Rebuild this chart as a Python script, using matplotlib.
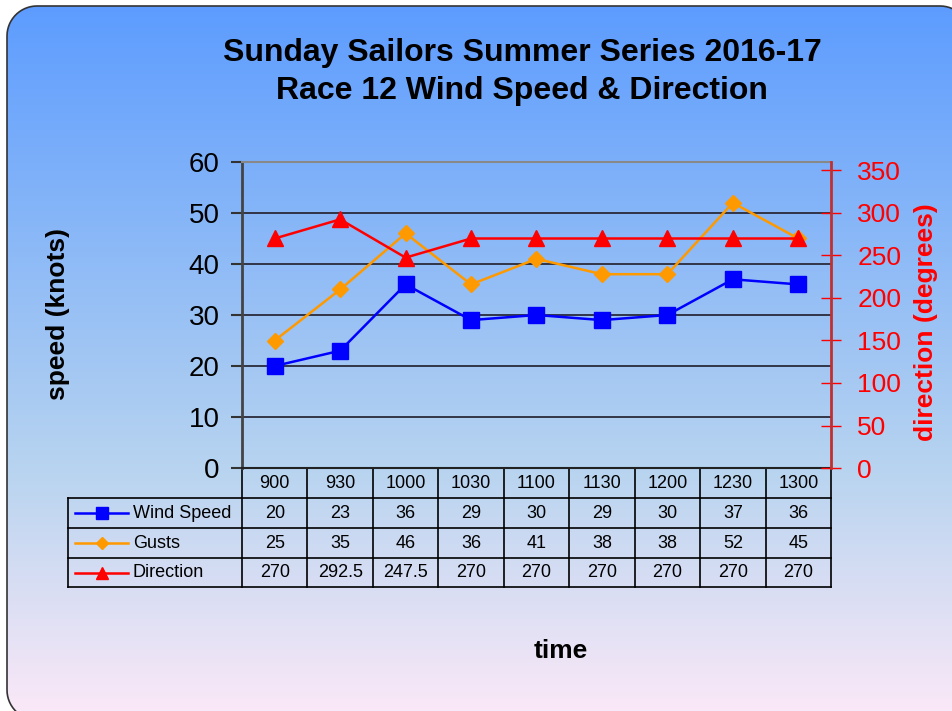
import numpy as np
import matplotlib
matplotlib.use("Agg")
import matplotlib.pyplot as plt
from matplotlib.patches import Polygon
from matplotlib.lines import Line2D
from matplotlib.transforms import blended_transform_factory

plt.rcParams['font.family'] = ['Liberation Sans', 'DejaVu Sans']

# data
times = ['900', '930', '1000', '1030', '1100', '1130', '1200', '1230', '1300']
wind_speed = [20, 23, 36, 29, 30, 29, 30, 37, 36]
gusts = [25, 35, 46, 36, 41, 38, 38, 52, 45]
direction = [270, 292.5, 247.5, 270, 270, 270, 270, 270, 270]
direction_labels = ['270', '292.5', '247.5', '270', '270', '270', '270', '270', '270']

W, H = 953, 711
fig = plt.figure(figsize=(W / 100, H / 100), dpi=100)

# background with rounded frame and vertical gradient (pixel coords, y down)
bg = fig.add_axes([0, 0, 1, 1])
bg.set_xlim(0, W)
bg.set_ylim(H, 0)
bg.set_autoscale_on(False)
bg.axis('off')
top_c = np.array([0.36, 0.61, 1.0])
mid_c = np.array([0.72, 0.83, 0.94])
bot_c = np.array([0.98, 0.91, 0.97])
yy = np.linspace(0, 1, 300)[:, None]
grad = np.where(yy < 0.66,
                top_c + (mid_c - top_c) * (yy / 0.66),
                mid_c + (bot_c - mid_c) * ((yy - 0.66) / 0.34))
grad = grad[:, None, :].repeat(2, axis=1)

# rounded rectangle corners as short arcs
fl, ft, fr, fb, rad = 7, 6, 970, 720, 30
arcs = []
for cx, cy, a0 in [(fr - rad, ft + rad, -90), (fr - rad, fb - rad, 0),
                   (fl + rad, fb - rad, 90), (fl + rad, ft + rad, 180)]:
    a = np.radians(np.linspace(a0, a0 + 90, 16))
    arcs.append(np.column_stack([cx + rad * np.cos(a), cy + rad * np.sin(a)]))
pts = np.vstack(arcs)
clip_pts = np.column_stack([np.clip(pts[:, 0], 0, W), np.clip(pts[:, 1], 0, H)])
clip_poly = Polygon(clip_pts, closed=True, facecolor='none', edgecolor='none')
bg.add_patch(clip_poly)
img = bg.imshow(grad, extent=[0, W, H, 0], aspect='auto', zorder=1)
img.set_clip_path(clip_poly)
# only the visible part of the frame outline: bottom-left, top-left, top-right
edge = np.vstack([arcs[2], arcs[3], arcs[0]])
bg.add_line(Line2D(edge[:, 0], edge[:, 1], color='#333333', lw=1.2, zorder=3))
bg.set_xlim(0, W)
bg.set_ylim(H, 0)

bg.text(522, 53, 'Sunday Sailors Summer Series 2016-17', ha='center', va='center',
        fontsize=23, fontweight='bold')
bg.text(522, 91, 'Race 12 Wind Speed & Direction', ha='center', va='center',
        fontsize=23, fontweight='bold')
bg.text(561, 651, 'time', ha='center', va='center', fontsize=19, fontweight='bold')
bg.text(58, 314, 'speed (knots)', ha='center', va='center', rotation=90,
        fontsize=19, fontweight='bold')
bg.text(926, 322, 'direction (degrees)', ha='center', va='center', rotation=90,
        fontsize=19, fontweight='bold', color='red')

# main plot
x0, x1, y0, y1 = 242, 831, 162, 468
ax = fig.add_axes([x0 / W, 1 - y1 / H, (x1 - x0) / W, (y1 - y0) / H])
ax.patch.set_alpha(0)
x = np.arange(len(times))
ax.set_xlim(-0.5, len(times) - 0.5)
ax.set_ylim(0, 60)
ax.set_yticks(range(0, 61, 10))
ax.set_xticks([])
ax.grid(axis='y', color='#2a2a3a', lw=1.3)
ax.set_axisbelow(True)
ax.tick_params(axis='y', labelsize=20, length=8, width=1.5, color='#333333', pad=8)
ax.spines['left'].set_color('#444444')
ax.spines['left'].set_linewidth(2)
ax.spines['top'].set_color('#888888')
ax.spines['top'].set_linewidth(1.5)
ax.spines['bottom'].set_color('#222222')
ax.spines['bottom'].set_linewidth(1.5)
ax.spines['right'].set_visible(False)

ax.plot(x, gusts, color='#FF9900', lw=1.8, marker='D', ms=8.5, zorder=3)
ax.plot(x, wind_speed, color='#0000FF', lw=1.8, marker='s', ms=11, zorder=4)

ax2 = ax.twinx()
ax2.set_ylim(0, 360)
ax2.set_yticks(range(0, 351, 50))
ax2.plot(x, direction, color='#FF0000', lw=1.8, marker='^', ms=11.5, zorder=5)
ax2.tick_params(axis='y', colors='red', labelsize=19, direction='inout', length=14,
                width=1, pad=12)
for s in ['left', 'top', 'bottom']:
    ax2.spines[s].set_visible(False)
ax2.spines['right'].set_color('#C03030')
ax2.spines['right'].set_linewidth(2)

# data table below the plot
tr = blended_transform_factory(ax.transData, bg.transData)
rows = [(468, 498), (498, 528), (528, 558), (558, 587)]
leg_left = -0.5 - (x0 - 68) / ((x1 - x0) / len(times))
tkw = dict(transform=tr, clip_on=False, color='black', lw=1.2)
# vertical lines between category columns
for i in range(len(times) + 1):
    xv = i - 0.5
    bg.add_line(Line2D([xv, xv], [468, 587], **tkw))
for yv in [498, 528, 558, 587]:
    bg.add_line(Line2D([leg_left, len(times) - 0.5], [yv, yv], **tkw))
bg.add_line(Line2D([leg_left, leg_left], [498, 587], **tkw))

for i, t in enumerate(times):
    bg.text(i, 484, t, transform=tr, ha='center', va='center', fontsize=13)
series = [('Wind Speed', wind_speed, '#0000FF', 's', 8),
          ('Gusts', gusts, '#FF9900', 'D', 6.5),
          ('Direction', direction_labels, '#FF0000', '^', 9)]
for (name, vals, col, mk, ms), (ra, rb) in zip(series, rows[1:]):
    yc = (ra + rb) / 2
    for i, v in enumerate(vals):
        bg.text(i, yc, str(v), transform=tr, ha='center', va='center', fontsize=13)
    bg.add_line(Line2D([75, 128], [yc, yc], color=col, lw=1.8))
    bg.add_line(Line2D([102], [yc], color=col, marker=mk, ms=ms, lw=0))
    bg.text(133, yc, name, ha='left', va='center', fontsize=13)

fig.savefig('out.png', dpi=100)
